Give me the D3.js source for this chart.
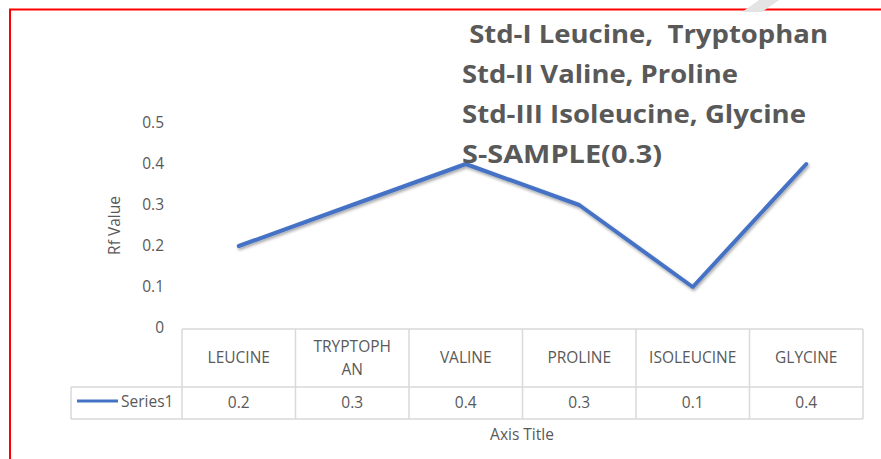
<!DOCTYPE html>
<html>
<head>
<meta charset="utf-8">
<script src="https://cdn.jsdelivr.net/npm/d3@7"></script>
<style>
    body { margin: 0; background: #fff; }
    svg { display: block; font-family: "Open Sans", sans-serif; }
</style>
</head>
<body>
<div id="chart"></div>
<script>
const categories = ["LEUCINE", "TRYPTOPHAN", "VALINE", "PROLINE", "ISOLEUCINE", "GLYCINE"];
const categoryLines = [["LEUCINE"], ["TRYPTOPH", "AN"], ["VALINE"], ["PROLINE"], ["ISOLEUCINE"], ["GLYCINE"]];
const series1 = [0.2, 0.3, 0.4, 0.3, 0.1, 0.4];
const yTicks = [0, 0.1, 0.2, 0.3, 0.4, 0.5];
const notes = [" Std-I Leucine,  Tryptophan", "Std-II Valine, Proline", "Std-III Isoleucine, Glycine", "S-SAMPLE(0.3)"];
const noteWidths = [366, 276, 344, 200];

const width = 881;
const height = 459;
const textColor = "#595959";
const gridColor = "#d9d9d9";
const fontSize = 15.5;

let svg = d3.select("#chart")
    .append("svg")
    .attr("width", width)
    .attr("height", height);

// shadow for the line
let defs = svg.append("defs");
let filter = defs.append("filter").attr("id", "shadow")
    .attr("x", "-10%").attr("y", "-10%").attr("width", "120%").attr("height", "130%");
filter.append("feDropShadow")
    .attr("dx", 1).attr("dy", 2).attr("stdDeviation", 1.5)
    .attr("flood-color", "#000").attr("flood-opacity", 0.35);

// red frame
svg.append("rect")
    .attr("x", 10).attr("y", 9.5)
    .attr("width", width + 20).attr("height", height + 20)
    .attr("fill", "none")
    .attr("stroke", "#ff0000")
    .attr("stroke-width", 2);

// faint watermark stroke
svg.append("path")
    .attr("d", "M742,12 L762,12 L782,-2 L762,-2 Z")
    .attr("fill", "#e4e4e4");

let x = d3.scaleBand()
    .domain(categories)
    .range([182, 863]);

let y = d3.scaleLinear()
    .domain([0, 0.5])
    .range([328, 123]);

// y axis labels
let yAxis = svg.append("g")
    .attr("transform", "translate(164,0)")
    .call(d3.axisLeft(y).tickValues(yTicks).tickSize(0).tickPadding(0).tickFormat(d => d === 0 ? "0" : d3.format(".1f")(d)));
yAxis.select(".domain").remove();
yAxis.selectAll("text")
    .attr("fill", textColor)
    .attr("font-size", fontSize)
    .attr("font-family", "'Open Sans', sans-serif");

svg.append("text")
    .attr("transform", "translate(120," + (y(0.25)) + ") rotate(-90)")
    .attr("text-anchor", "middle")
    .attr("fill", textColor)
    .attr("font-size", fontSize)
    .text("Rf Value");

// data table
let rowTop = 329, rowMid = 387, rowBot = 419;
let table = svg.append("g")
    .attr("stroke", gridColor)
    .attr("stroke-width", 1.5)
    .attr("fill", "none");

table.append("path")
    .attr("d", "M" + x.range()[0] + "," + rowTop + "H" + x.range()[1] +
        "M71," + rowMid + "H" + x.range()[1] +
        "M71," + rowBot + "H" + x.range()[1] +
        "M71," + rowMid + "V" + rowBot);

table.selectAll("line.col")
    .data(categories.concat(["end"]))
    .join("line")
    .attr("class", "col")
    .attr("x1", (d, i) => i < categories.length ? x(d) : x.range()[1])
    .attr("x2", (d, i) => i < categories.length ? x(d) : x.range()[1])
    .attr("y1", rowTop)
    .attr("y2", rowBot);

// category labels
let catLabels = svg.selectAll(".cat")
    .data(categoryLines)
    .join("text")
    .attr("class", "cat")
    .attr("text-anchor", "middle")
    .attr("fill", textColor)
    .attr("font-size", fontSize);

catLabels.selectAll("tspan")
    .data((d, i) => d.map(t => ({ t: t, n: d.length, c: categories[i] })))
    .join("tspan")
    .attr("x", d => x(d.c) + x.bandwidth() / 2)
    .attr("y", (d, j) => 363 + (j - (d.n - 1) / 2) * 23)
    .text(d => d.t);

// values row
svg.selectAll(".val")
    .data(series1)
    .join("text")
    .attr("class", "val")
    .attr("x", (d, i) => x(categories[i]) + x.bandwidth() / 2)
    .attr("y", 408)
    .attr("text-anchor", "middle")
    .attr("fill", textColor)
    .attr("font-size", fontSize)
    .text(d => d3.format(".1f")(d));

// legend key in table
svg.append("line")
    .attr("x1", 77).attr("x2", 118)
    .attr("y1", 401).attr("y2", 401)
    .attr("stroke", "#4472c4")
    .attr("stroke-width", 3);
svg.append("text")
    .attr("x", 121).attr("y", 407)
    .attr("fill", textColor)
    .attr("font-size", fontSize)
    .text("Series1");

svg.append("text")
    .attr("x", 522).attr("y", 440)
    .attr("text-anchor", "middle")
    .attr("fill", textColor)
    .attr("font-size", fontSize)
    .text("Axis Title");

// series line
let line = d3.line()
    .x((d, i) => x(categories[i]) + x.bandwidth() / 2)
    .y(d => y(d));

svg.append("path")
    .datum(series1)
    .attr("d", line)
    .attr("fill", "none")
    .attr("stroke", "#4472c4")
    .attr("stroke-width", 4)
    .attr("stroke-linecap", "round")
    .attr("stroke-linejoin", "round")
    .attr("filter", "url(#shadow)");

// annotation text
svg.selectAll(".note")
    .data(notes)
    .join("text")
    .attr("class", "note")
    .attr("x", 462)
    .attr("y", (d, i) => 43 + i * 40)
    .attr("fill", textColor)
    .attr("font-size", 25)
    .attr("font-weight", "bold")
    .attr("textLength", (d, i) => noteWidths[i])
    .attr("lengthAdjust", "spacingAndGlyphs")
    .style("white-space", "pre")
    .text(d => d);
</script>
</body>
</html>
